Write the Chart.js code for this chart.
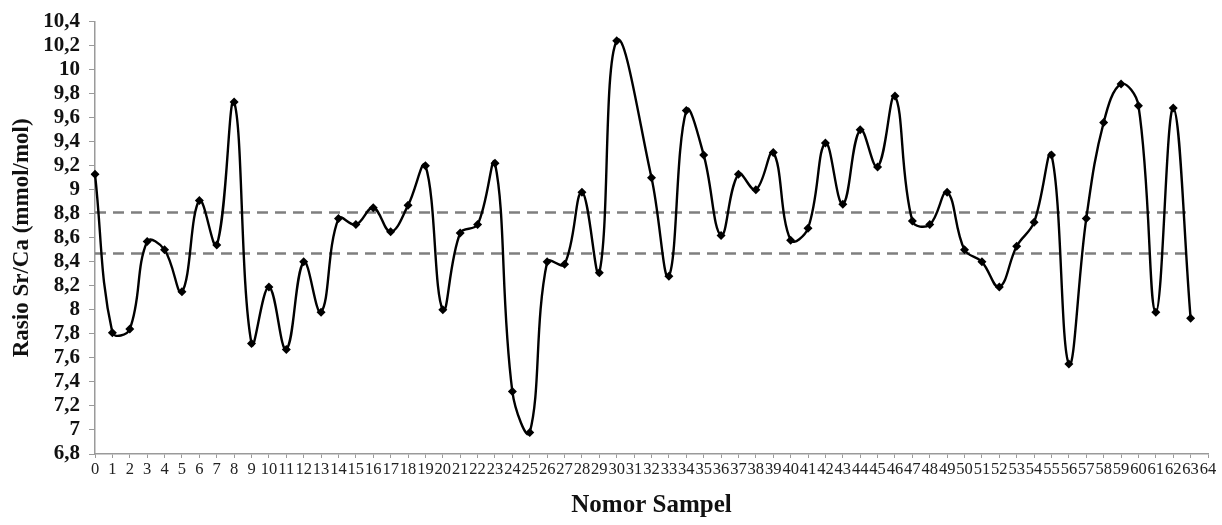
<!DOCTYPE html>
<html>
<head>
<meta charset="utf-8">
<script src="https://cdn.jsdelivr.net/npm/chart.js@4"></script>
<style>
  body { margin: 0; background: #fff; }
  #wrap { width: 1222px; height: 525px; }
</style>
</head>
<body>
<div id="wrap"><canvas id="line-chart"></canvas></div>
<script>
var sampleLabels = ["0", "1", "2", "3", "4", "5", "6", "7", "8", "9", "10", "11", "12", "13", "14", "15",
  "16", "17", "18", "19", "20", "21", "22", "23", "24", "25", "26", "27", "28", "29", "30", "31", "32",
  "33", "34", "35", "36", "37", "38", "39", "40", "41", "42", "43", "44", "45", "46", "47", "48", "49",
  "50", "51", "52", "53", "54", "55", "56", "57", "58", "59", "60", "61", "62", "63", "64"];

// Sr/Ca per sample (31 has no marker in the source)
var srCa = [9.13, 7.81, 7.84, 8.57, 8.50, 8.15, 8.91, 8.54, 9.73, 7.72, 8.19, 7.67, 8.40, 7.98, 8.76, 8.71,
  8.85, 8.65, 8.87, 9.20, 8.00, 8.64, 8.71, 9.22, 7.32, 6.98, 8.40, 8.38, 8.98, 8.31, 10.24, null, 9.10,
  8.28, 9.66, 9.29, 8.62, 9.13, 9.00, 9.31, 8.58, 8.68, 9.39, 8.88, 9.50, 9.19, 9.78, 8.74, 8.71, 8.98,
  8.50, 8.40, 8.19, 8.53, 8.73, 9.29, 7.55, 8.76, 9.56, 9.88, 9.70, 7.98, 9.68, 7.93];

var upperLine = [{ x: "0", y: 8.81 }, { x: "63", y: 8.81 }];
var lowerLine = [{ x: "0", y: 8.47 }, { x: "63", y: 8.47 }];

var yMin = 6.8, yMax = 10.4, yStep = 0.2;

var ctx = document.getElementById("line-chart").getContext("2d");

new Chart(ctx, {
  type: "line",
  data: {
    labels: sampleLabels,
    datasets: [{
      label: "Sr/Ca",
      data: srCa,
      borderColor: "#000",
      backgroundColor: "#000",
      borderWidth: 2.4,
      tension: 0.4,
      spanGaps: true,
      pointStyle: "rectRot",
      pointRadius: 4.5,
      pointBorderWidth: 0,
      order: 0
    },
    {
      label: "atas",
      data: upperLine,
      borderColor: "#7f7f7f",
      borderWidth: 2.5,
      borderDash: [11, 7],
      pointRadius: 0,
      order: 1
    },
    {
      label: "bawah",
      data: lowerLine,
      borderColor: "#7f7f7f",
      borderWidth: 2.5,
      borderDash: [11, 7],
      pointRadius: 0,
      order: 1
    }]
  },
  options: {
    responsive: true,
    maintainAspectRatio: false,
    animation: false,
    layout: { padding: { top: 17, right: 14, bottom: 4, left: 0 } },
    plugins: {
      legend: { display: false },
      tooltip: { enabled: false }
    },
    scales: {
      x: {
        offset: false,
        grid: {
          display: true,
          drawOnChartArea: false,
          drawTicks: true,
          tickLength: 4,
          color: "#9a9a9a"
        },
        border: { color: "#9a9a9a", width: 1.5 },
        ticks: {
          autoSkip: false,
          maxRotation: 0,
          minRotation: 0,
          padding: 2,
          color: "#222",
          font: { family: "Liberation Serif", size: 16.5 }
        },
        title: {
          display: true,
          text: "Nomor Sampel",
          color: "#111",
          padding: { top: 6, bottom: 0 },
          font: { family: "Liberation Serif", size: 25, weight: "bold" }
        },
        afterFit: function (scale) { scale.height = 67; }
      },
      y: {
        min: yMin,
        max: yMax,
        grid: {
          display: true,
          drawOnChartArea: false,
          drawTicks: true,
          tickLength: 6,
          color: "#9a9a9a"
        },
        border: { color: "#9a9a9a", width: 1.5 },
        ticks: {
          stepSize: yStep,
          autoSkip: false,
          padding: 9,
          color: "#111",
          font: { family: "Liberation Serif", size: 21, weight: "bold" },
          callback: function (v) {
            var r = Math.round(v * 10) / 10;
            return String(r).replace(".", ",");
          }
        },
        title: {
          display: true,
          text: "Rasio Sr/Ca (mmol/mol)",
          color: "#111",
          padding: { top: 8, bottom: 2 },
          font: { family: "Liberation Serif", size: 23, weight: "bold" }
        },
        afterFit: function (scale) { scale.width = 95; }
      }
    }
  }
});
</script>
</body>
</html>
